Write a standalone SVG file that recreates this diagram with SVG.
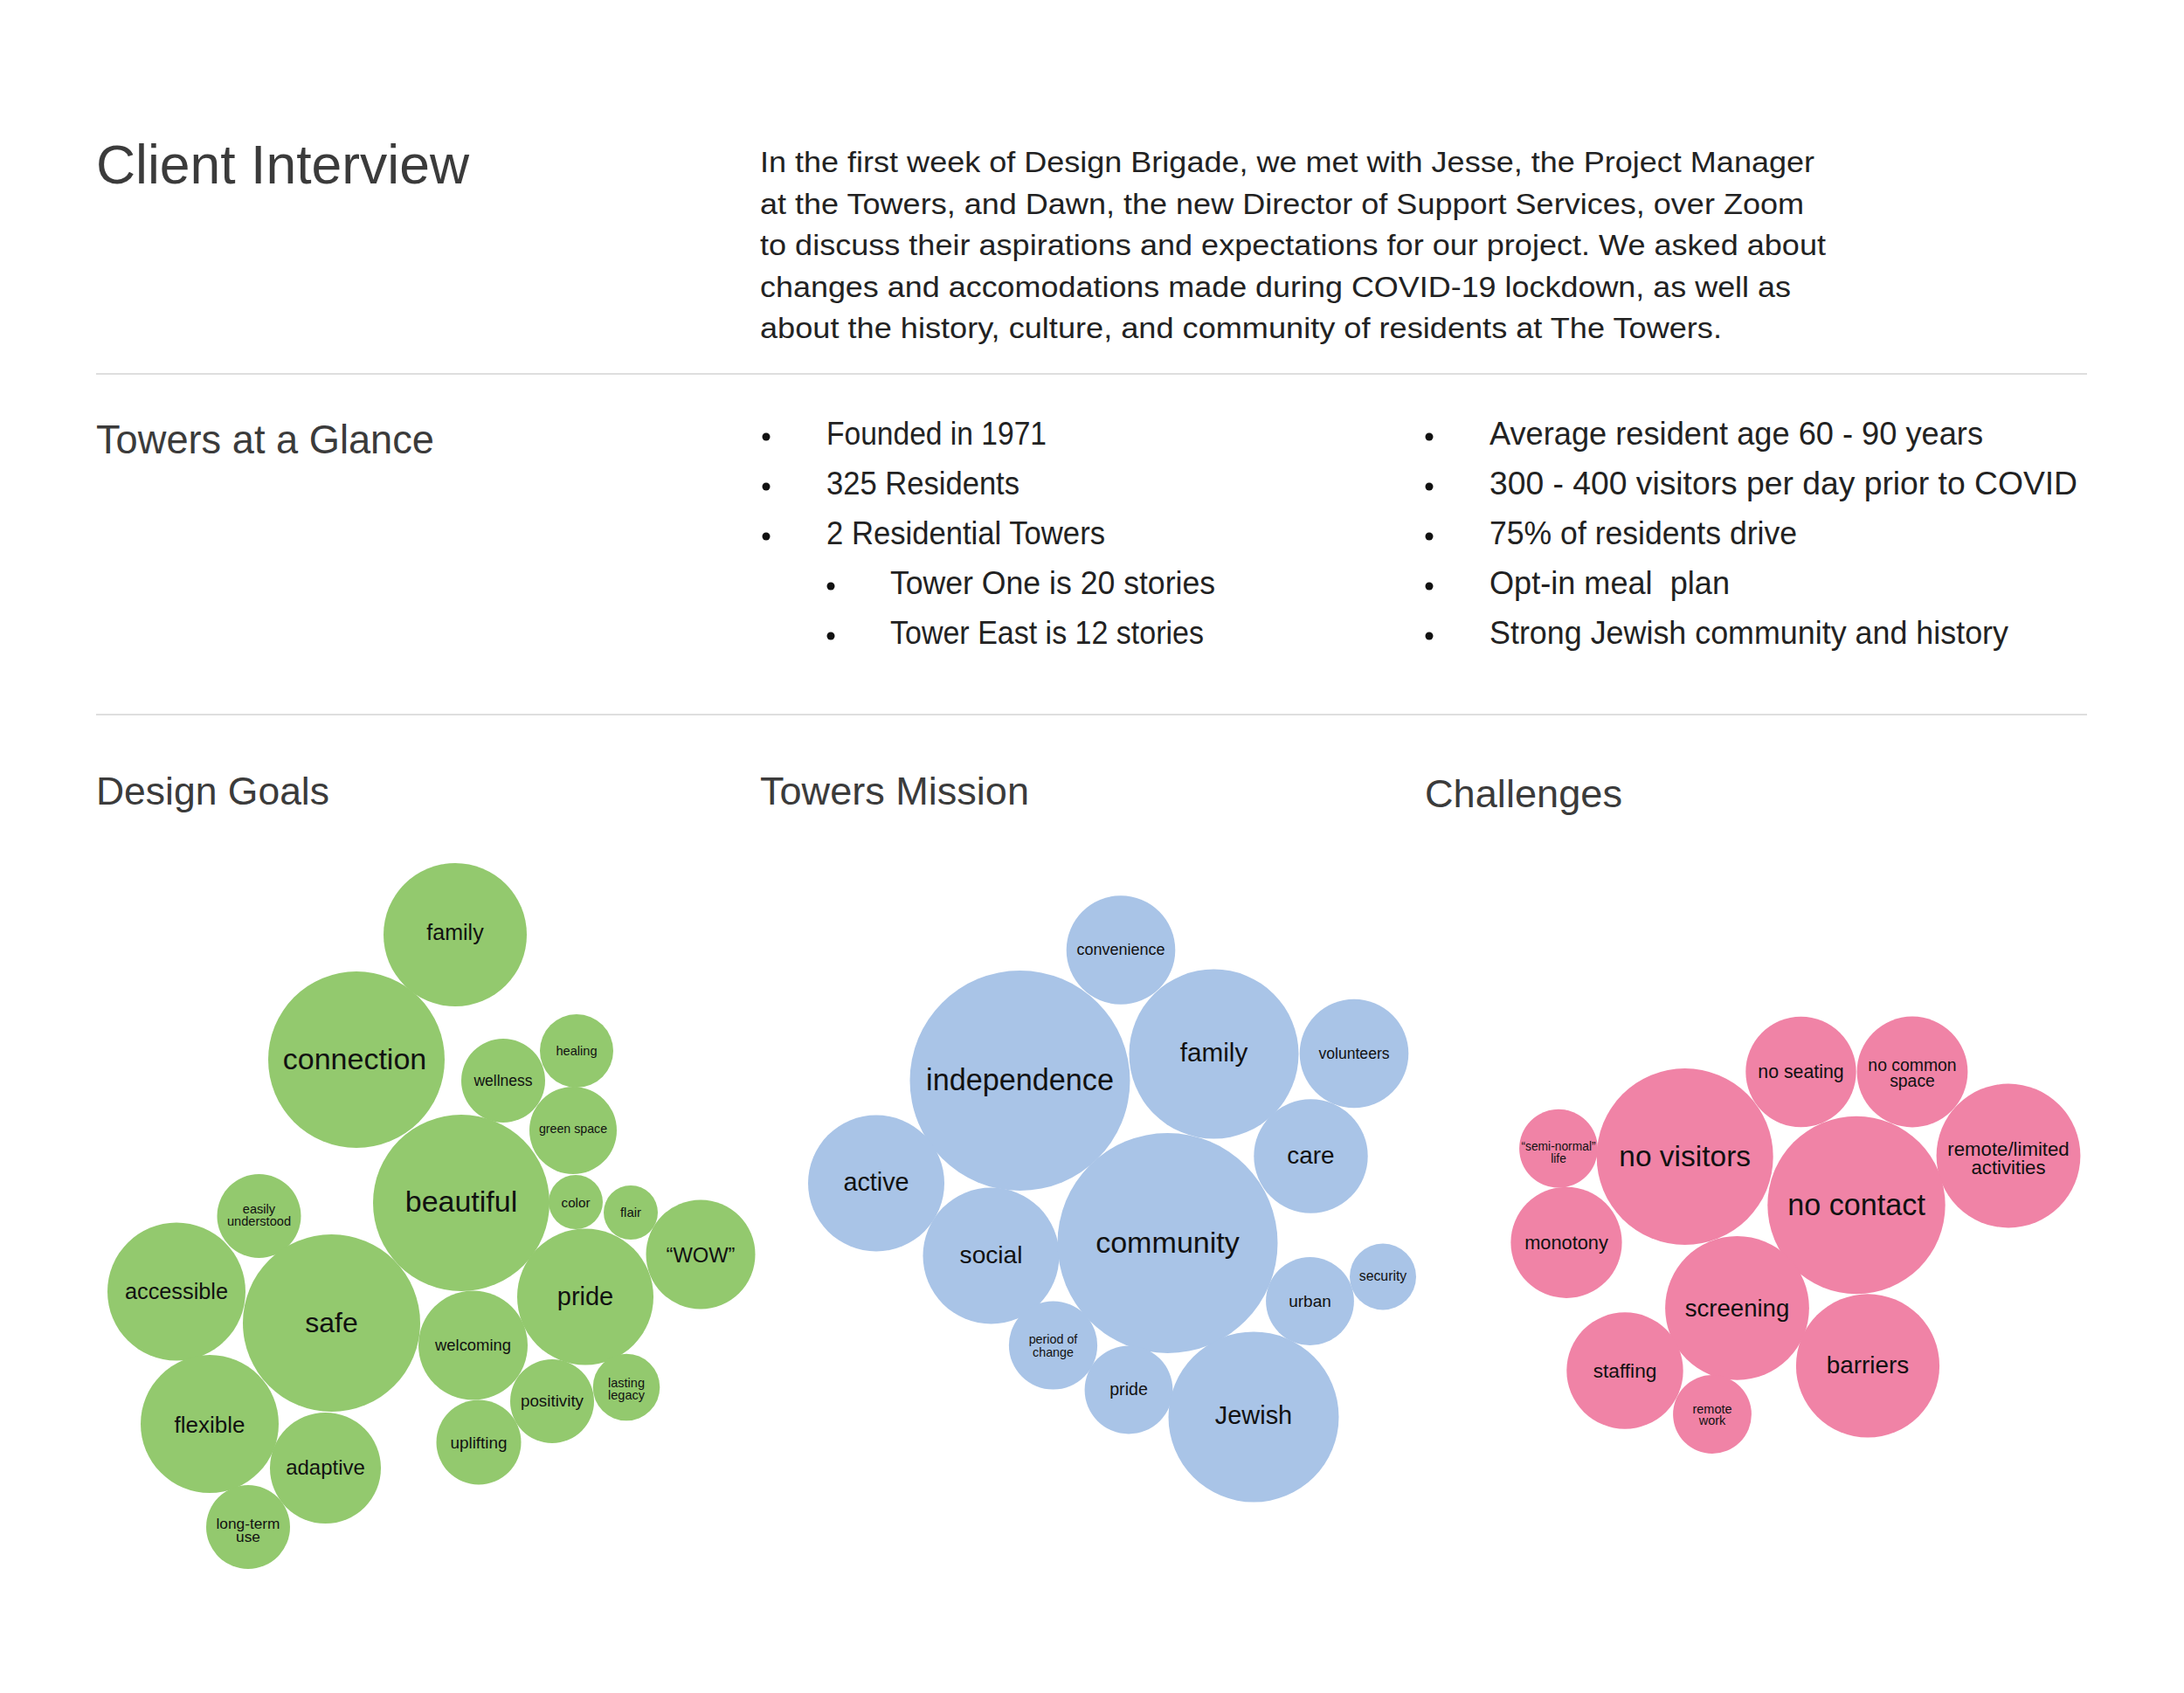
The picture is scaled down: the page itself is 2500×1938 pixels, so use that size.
<svg xmlns="http://www.w3.org/2000/svg" width="2500" height="1938" viewBox="0 0 2500 1938">
<style>
text{font-family:"Liberation Sans",Arial,sans-serif}
.h1{font-size:63px;fill:#3b3b3b}
.h2{font-size:45px;fill:#3b3b3b}
.para{font-size:33.5px;fill:#222}
.bul{font-size:36px;fill:#222}
.dot{fill:#111}
.rule{stroke:#dedede;stroke-width:2}
.g{fill:#93C96E}
.b{fill:#A9C4E7}
.p{fill:#F083A6}
.lbl{text-anchor:middle;fill:#111}
</style>
<rect width="2500" height="1938" fill="#fff"/>

<g id="header">
<text class="h1" x="110" y="210" textLength="427" lengthAdjust="spacingAndGlyphs">Client Interview</text>
<g class="para">
<text x="870" y="197" textLength="1207" lengthAdjust="spacingAndGlyphs">In the first week of Design Brigade, we met with Jesse, the Project Manager</text>
<text x="870" y="245" textLength="1195" lengthAdjust="spacingAndGlyphs">at the Towers, and Dawn, the new Director of Support Services, over Zoom</text>
<text x="870" y="292" textLength="1220" lengthAdjust="spacingAndGlyphs">to discuss their aspirations and expectations for our project. We asked about</text>
<text x="870" y="340" textLength="1180" lengthAdjust="spacingAndGlyphs">changes and accomodations made during COVID-19 lockdown, as well as</text>
<text x="870" y="387" textLength="1101" lengthAdjust="spacingAndGlyphs">about the history, culture, and community of residents at The Towers.</text>
</g>
</g>
<line class="rule" x1="110" y1="428" x2="2389" y2="428"/>

<g id="glance">
<text class="h2" x="110" y="519" style="font-size:46px" textLength="387" lengthAdjust="spacingAndGlyphs">Towers at a Glance</text>
<g class="bul">
<circle class="dot" cx="877" cy="500" r="4.5"/><text x="946" y="509" textLength="252" lengthAdjust="spacingAndGlyphs">Founded in 1971</text>
<circle class="dot" cx="877" cy="557" r="4.5"/><text x="946" y="566" textLength="221" lengthAdjust="spacingAndGlyphs">325 Residents</text>
<circle class="dot" cx="877" cy="614" r="4.5"/><text x="946" y="623" textLength="319" lengthAdjust="spacingAndGlyphs">2 Residential Towers</text>
<circle class="dot" cx="951" cy="671" r="4.5"/><text x="1019" y="680" textLength="372" lengthAdjust="spacingAndGlyphs">Tower One is 20 stories</text>
<circle class="dot" cx="951" cy="728" r="4.5"/><text x="1019" y="737" textLength="359" lengthAdjust="spacingAndGlyphs">Tower East is 12 stories</text>
<circle class="dot" cx="1636" cy="500" r="4.5"/><text x="1705" y="509" textLength="565" lengthAdjust="spacingAndGlyphs">Average resident age 60 - 90 years</text>
<circle class="dot" cx="1636" cy="557" r="4.5"/><text x="1705" y="566" textLength="673" lengthAdjust="spacingAndGlyphs">300 - 400 visitors per day prior to COVID</text>
<circle class="dot" cx="1636" cy="614" r="4.5"/><text x="1705" y="623" textLength="352" lengthAdjust="spacingAndGlyphs">75% of residents drive</text>
<circle class="dot" cx="1636" cy="671" r="4.5"/><text x="1705" y="680" textLength="275" lengthAdjust="spacingAndGlyphs" xml:space="preserve">Opt-in meal  plan</text>
<circle class="dot" cx="1636" cy="728" r="4.5"/><text x="1705" y="737" textLength="594" lengthAdjust="spacingAndGlyphs">Strong Jewish community and history</text>
</g>
</g>
<line class="rule" x1="110" y1="818" x2="2389" y2="818"/>

<g id="section-titles">
<text class="h2" x="110" y="921" textLength="267" lengthAdjust="spacingAndGlyphs">Design Goals</text>
<text class="h2" x="870" y="921" textLength="308" lengthAdjust="spacingAndGlyphs">Towers Mission</text>
<text class="h2" x="1631" y="924" textLength="226" lengthAdjust="spacingAndGlyphs">Challenges</text>
</g>

<g id="design-goals">
<g id="g-family"><circle class="g" cx="521" cy="1070" r="82"/><text class="lbl" x="521" y="1076" font-size="25">family</text></g>
<g id="g-connection"><circle class="g" cx="408" cy="1213" r="101"/><text class="lbl" x="406" y="1224" font-size="34">connection</text></g>
<g id="g-wellness"><circle class="g" cx="576" cy="1237" r="48"/><text class="lbl" x="576" y="1243" font-size="17.5">wellness</text></g>
<g id="g-healing"><circle class="g" cx="660" cy="1203" r="42"/><text class="lbl" x="660" y="1208" font-size="14.6">healing</text></g>
<g id="g-greenspace"><circle class="g" cx="656" cy="1294" r="50"/><text class="lbl" x="656" y="1297" font-size="14.2">green space</text></g>
<g id="g-beautiful"><circle class="g" cx="528" cy="1377" r="101"/><text class="lbl" x="528" y="1387" font-size="34">beautiful</text></g>
<g id="g-color"><circle class="g" cx="659" cy="1376" r="31"/><text class="lbl" x="659" y="1382" font-size="15.2">color</text></g>
<g id="g-flair"><circle class="g" cx="722" cy="1388" r="31"/><text class="lbl" x="722" y="1393" font-size="15">flair</text></g>
<g id="g-wow"><circle class="g" cx="802" cy="1436" r="62.5"/><text class="lbl" x="802" y="1445" font-size="23.7">“WOW”</text></g>
<g id="g-easily"><circle class="g" cx="296.5" cy="1392" r="48"/><text class="lbl" x="296.5" y="1388.5" font-size="14.6">easily</text><text class="lbl" x="296.5" y="1403" font-size="14.6">understood</text></g>
<g id="g-accessible"><circle class="g" cx="202" cy="1478.5" r="79"/><text class="lbl" x="202" y="1487" font-size="25.3">accessible</text></g>
<g id="g-safe"><circle class="g" cx="379.5" cy="1514.5" r="101.5"/><text class="lbl" x="379.5" y="1525" font-size="32">safe</text></g>
<g id="g-pride"><circle class="g" cx="670" cy="1484.5" r="78"/><text class="lbl" x="670" y="1494" font-size="29">pride</text></g>
<g id="g-welcoming"><circle class="g" cx="541.5" cy="1540" r="62.5"/><text class="lbl" x="541.5" y="1546" font-size="18.4">welcoming</text></g>
<g id="g-flexible"><circle class="g" cx="240" cy="1630" r="79"/><text class="lbl" x="240" y="1640" font-size="26">flexible</text></g>
<g id="g-adaptive"><circle class="g" cx="372.5" cy="1680.5" r="63.5"/><text class="lbl" x="372.5" y="1688" font-size="24">adaptive</text></g>
<g id="g-positivity"><circle class="g" cx="632" cy="1604" r="48"/><text class="lbl" x="632" y="1610" font-size="18.8">positivity</text></g>
<g id="g-legacy"><circle class="g" cx="717" cy="1588" r="38.3"/><text class="lbl" x="717" y="1587.7" font-size="14.5">lasting</text><text class="lbl" x="717" y="1602" font-size="14.5">legacy</text></g>
<g id="g-uplifting"><circle class="g" cx="548" cy="1651" r="48.5"/><text class="lbl" x="548" y="1657.5" font-size="18.9">uplifting</text></g>
<g id="g-longterm"><circle class="g" cx="284" cy="1748" r="48"/><text class="lbl" x="284" y="1749.5" font-size="17.3">long-term</text><text class="lbl" x="284" y="1764.5" font-size="17.3">use</text></g>
</g>

<g id="towers-mission">
<g id="b-convenience"><circle class="b" cx="1283" cy="1087.5" r="62.3"/><text class="lbl" x="1283" y="1093" font-size="18">convenience</text></g>
<g id="b-independence"><circle class="b" cx="1167.5" cy="1237" r="126"/><text class="lbl" x="1167.5" y="1248" font-size="34.2">independence</text></g>
<g id="b-family"><circle class="b" cx="1389.5" cy="1206.5" r="97"/><text class="lbl" x="1389.5" y="1214.5" font-size="29.7">family</text></g>
<g id="b-volunteers"><circle class="b" cx="1550" cy="1206" r="62.3"/><text class="lbl" x="1550" y="1212" font-size="17.6">volunteers</text></g>
<g id="b-active"><circle class="b" cx="1003" cy="1354.5" r="78"/><text class="lbl" x="1003" y="1363" font-size="28.8">active</text></g>
<g id="b-care"><circle class="b" cx="1500.5" cy="1323.5" r="65.2"/><text class="lbl" x="1500.5" y="1332" font-size="27.9">care</text></g>
<g id="b-social"><circle class="b" cx="1134.5" cy="1437.5" r="78"/><text class="lbl" x="1134.5" y="1446" font-size="28.1">social</text></g>
<g id="b-community"><circle class="b" cx="1336.5" cy="1423" r="126"/><text class="lbl" x="1336.5" y="1434" font-size="34.1">community</text></g>
<g id="b-security"><circle class="b" cx="1583" cy="1461.5" r="38"/><text class="lbl" x="1583" y="1465.5" font-size="15.8">security</text></g>
<g id="b-urban"><circle class="b" cx="1499.5" cy="1489.5" r="50.4"/><text class="lbl" x="1499.5" y="1495.5" font-size="19">urban</text></g>
<g id="b-period"><circle class="b" cx="1205.5" cy="1540" r="50.6"/><text class="lbl" x="1205.5" y="1538" font-size="14.3">period of</text><text class="lbl" x="1205.5" y="1552.6" font-size="14.3">change</text></g>
<g id="b-pride"><circle class="b" cx="1292" cy="1591" r="50.4"/><text class="lbl" x="1292" y="1596.5" font-size="19.6">pride</text></g>
<g id="b-jewish"><circle class="b" cx="1435" cy="1622" r="97.5"/><text class="lbl" x="1435" y="1629.5" font-size="28.9">Jewish</text></g>
</g>

<g id="challenges">
<g id="p-noseating"><circle class="p" cx="2061.5" cy="1227" r="63.2"/><text class="lbl" x="2061.5" y="1234" font-size="21.3">no seating</text></g>
<g id="p-nocommon"><circle class="p" cx="2189" cy="1227" r="63.4"/><text class="lbl" x="2189" y="1225.5" font-size="19.4">no common</text><text class="lbl" x="2189" y="1244.2" font-size="19.4">space</text></g>
<g id="p-seminormal"><circle class="p" cx="1784" cy="1314.7" r="44.9"/><text class="lbl" x="1784" y="1317.4" font-size="13.8">“semi-normal”</text><text class="lbl" x="1784" y="1331.2" font-size="13.8">life</text></g>
<g id="p-novisitors"><circle class="p" cx="1928.7" cy="1324" r="101"/><text class="lbl" x="1928.7" y="1335.3" font-size="33.5">no visitors</text></g>
<g id="p-remote-limited"><circle class="p" cx="2299" cy="1323" r="82.4"/><text class="lbl" x="2299" y="1323.2" font-size="22.2">remote/limited</text><text class="lbl" x="2299" y="1344.2" font-size="22.2">activities</text></g>
<g id="p-nocontact"><circle class="p" cx="2125" cy="1379.5" r="101.7"/><text class="lbl" x="2125" y="1391" font-size="34.2">no contact</text></g>
<g id="p-monotony"><circle class="p" cx="1793" cy="1422.3" r="63.6"/><text class="lbl" x="1793" y="1429.5" font-size="21.8">monotony</text></g>
<g id="p-screening"><circle class="p" cx="1988.5" cy="1497.3" r="82.4"/><text class="lbl" x="1988.5" y="1507" font-size="27.6">screening</text></g>
<g id="p-staffing"><circle class="p" cx="1860" cy="1569" r="66.7"/><text class="lbl" x="1860" y="1577" font-size="22.7">staffing</text></g>
<g id="p-barriers"><circle class="p" cx="2138" cy="1563.4" r="82.1"/><text class="lbl" x="2138" y="1572" font-size="27.9">barriers</text></g>
<g id="p-remotework"><circle class="p" cx="1960" cy="1619" r="44.9"/><text class="lbl" x="1960" y="1617.9" font-size="14.5">remote</text><text class="lbl" x="1960" y="1631.3" font-size="14.5">work</text></g>
</g>
</svg>
